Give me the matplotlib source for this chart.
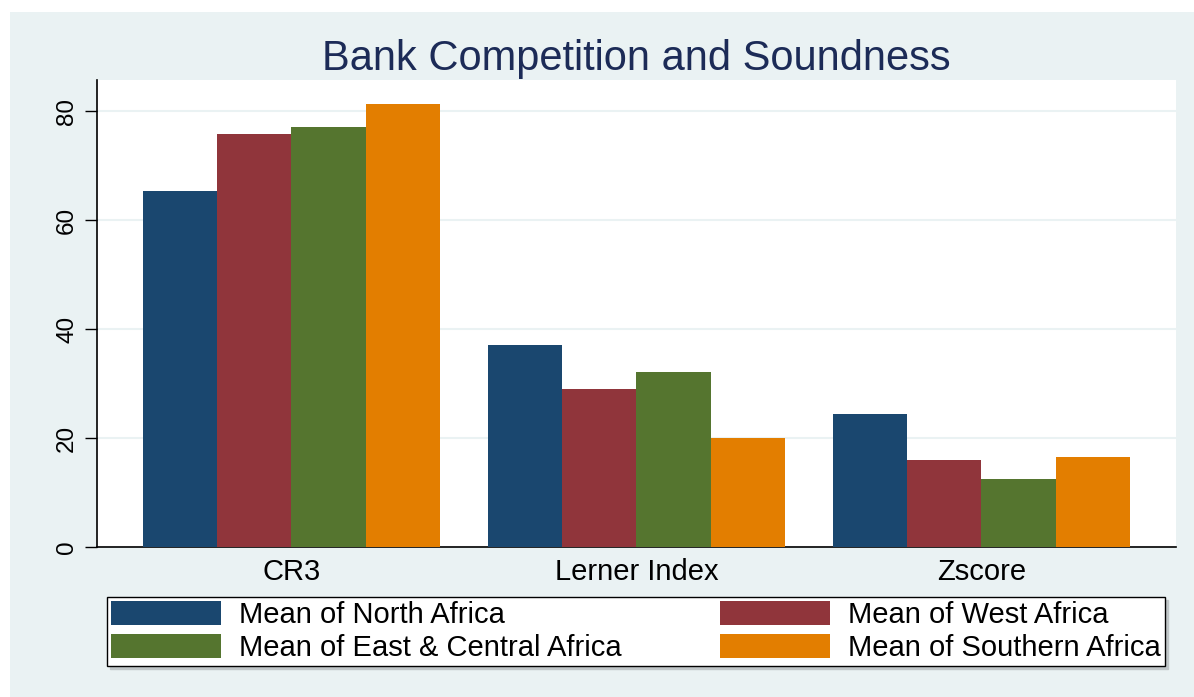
import matplotlib.pyplot as plt
from matplotlib.patches import Rectangle, Patch
import numpy as np

# Données
categories = ['CR3', 'Lerner Index', 'Zscore']
regions = ['Mean of North Africa', 'Mean of West Africa',
           'Mean of East & Central Africa', 'Mean of Southern Africa']
north = [65.4, 37.1, 24.4]
west = [75.8, 29.0, 16.0]
east = [77.0, 32.1, 12.5]
south = [81.3, 20.0, 16.5]
yticks = [0, 20, 40, 60, 80]

colors = ['#1a476f', '#90353b', '#55752f', '#e37e00']
bg = '#eaf2f3'

plt.rcParams['font.family'] = ['Liberation Sans', 'DejaVu Sans']

fig = plt.figure(figsize=(11.94, 6.97), dpi=100, facecolor='white')
# fond gris-bleu type Stata (bande blanche en haut)
fig.patches.append(Rectangle((10 / 1194, 0), 1, (697 - 12) / 697,
                             transform=fig.transFigure, facecolor=bg,
                             edgecolor='none', zorder=-10))

ax = fig.add_axes([97 / 1194, (697 - 547) / 697,
                   (1176 - 97) / 1194, (547 - 80) / 697])
ax.set_facecolor('white')

x = np.arange(len(categories))
w = 0.2152
series = [north, west, east, south]
for i, vals in enumerate(series):
    ax.bar(x + (i - 1.5) * w, vals, width=w, color=colors[i],
           edgecolor='none', zorder=3)

ax.set_xlim(-0.5638, 2.564)
ax.set_ylim(0, 85.7)
ax.set_yticks(yticks)
ax.set_yticklabels([str(t) for t in yticks], rotation=90, va='center')
ax.set_xticks(x)
ax.set_xticklabels(categories)

ax.tick_params(axis='y', length=8.6, width=1, pad=5, labelsize=17.5)
ax.tick_params(axis='x', length=0, pad=8, labelsize=21)
ax.yaxis.grid(True, color=bg, linewidth=1.5, zorder=0)
ax.set_axisbelow(True)

for s in ['top', 'right']:
    ax.spines[s].set_visible(False)
for s in ['left', 'bottom']:
    ax.spines[s].set_color('black')
    ax.spines[s].set_linewidth(1.2)

fig.text(636 / 1194, (697 - 70) / 697, 'Bank Competition and Soundness',
         ha='center', va='baseline', fontsize=30, color='#1c2b57')

# ordre colonne par colonne pour avoir 2 lignes comme Stata
handles = [Patch(facecolor=c, edgecolor='none') for c in colors]
order = [0, 2, 1, 3]
leg = fig.legend([handles[i] for i in order], [regions[i] for i in order],
                 ncol=2, loc='center', mode='expand',
                 bbox_to_anchor=(107 / 1194, (697 - 668) / 697,
                                 (1165 - 107) / 1194, (668 - 595) / 697),
                 fontsize=21, handlelength=3.77, handleheight=0.86,
                 handletextpad=0.62, labelspacing=0.18, borderpad=0.14,
                 borderaxespad=0, fancybox=False, frameon=True,
                 shadow={'ox': 2, 'oy': -2, 'color': '#c0c6c8', 'alpha': 1})
leg.get_frame().set_edgecolor('black')
leg.get_frame().set_linewidth(1)
leg.get_frame().set_facecolor('white')

fig.savefig('out.png', dpi=100, facecolor='white')
